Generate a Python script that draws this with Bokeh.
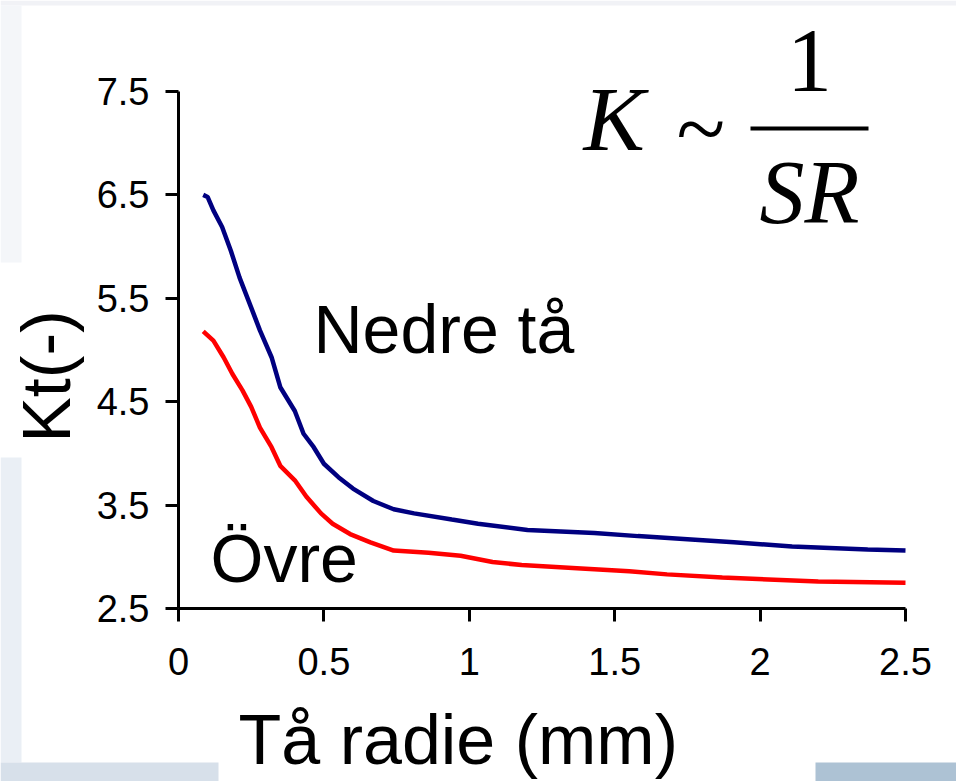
import math
from bokeh.plotting import figure
from bokeh.models import Range1d, Label, BoxAnnotation, FixedTicker
from bokeh.embed import file_html
from bokeh.resources import INLINE

# ---- data ----
nedre_x = [0.085, 0.10, 0.12, 0.15, 0.18, 0.21, 0.25, 0.28, 0.32, 0.35, 0.40, 0.43, 0.465,
           0.50, 0.55, 0.60, 0.67, 0.74, 0.81, 0.94, 1.03, 1.20, 1.43, 1.58, 1.75, 1.91,
           2.11, 2.37, 2.50]
nedre_kt = [6.50, 6.48, 6.35, 6.19, 5.96, 5.70, 5.41, 5.19, 4.93, 4.64, 4.41, 4.19, 4.06,
            3.90, 3.77, 3.66, 3.54, 3.46, 3.42, 3.36, 3.32, 3.26, 3.23, 3.20, 3.17, 3.14,
            3.10, 3.07, 3.06]

ovre_x = [0.085, 0.12, 0.155, 0.185, 0.22, 0.25, 0.28, 0.32, 0.35, 0.40, 0.44, 0.49, 0.53,
          0.59, 0.66, 0.74, 0.86, 0.97, 1.08, 1.18, 1.37, 1.55, 1.68, 1.87, 2.20, 2.50]
ovre_kt = [5.18, 5.09, 4.93, 4.77, 4.61, 4.45, 4.25, 4.06, 3.88, 3.74, 3.58, 3.42, 3.32,
           3.22, 3.14, 3.06, 3.04, 3.01, 2.95, 2.92, 2.89, 2.86, 2.83, 2.80, 2.76, 2.75]

x_ticks = [0, 0.5, 1, 1.5, 2, 2.5]
y_ticks = [2.5, 3.5, 4.5, 5.5, 6.5, 7.5]
x_tick_labels = {0: "0", 0.5: "0.5", 1: "1", 1.5: "1.5", 2: "2", 2.5: "2.5"}
y_tick_labels = {2.5: "2.5", 3.5: "3.5", 4.5: "4.5", 5.5: "5.5", 6.5: "6.5", 7.5: "7.5"}

# ---- layout: page pixels <-> data (axis box: x 178..905, y 91..608) ----
W, H = 956, 781
X0, XS = 178.0, 290.8      # px of x=0, px per unit
Y0, YS = 91.0, 103.4       # px of y=7.5, px per unit

def dx(px):
    return (px - X0) / XS

def dy(py):
    return 7.5 - (py - Y0) / YS

p = figure(output_backend="svg", toolbar_location=None, title=None,
           width=W, height=H, min_border=0,
           x_range=Range1d(dx(0), dx(W)), y_range=Range1d(dy(H), dy(0)))
p.background_fill_color = "white"
p.border_fill_color = "white"
p.outline_line_color = None
p.xgrid.visible = False
p.ygrid.visible = False

# faint slide background bands
def band(l, r, t, b, color):
    p.add_layout(BoxAnnotation(left=dx(l), right=dx(r), top=dy(t), bottom=dy(b),
                               fill_color=color, fill_alpha=1.0, line_alpha=0,
                               level="underlay"))

band(0, W, 0, 5, "#f1f2f6")
band(0, 21, 5, 262, "#f4f6f9")
band(0, 21, 457, 762, "#eaeff5")
band(0, 218, 762, H, "#d7e0ea")
band(815, W, 762, H, "#adc2d4")

xa, ya = p.xaxis[0], p.yaxis[0]
xa.fixed_location = 2.5
ya.fixed_location = 0
xa.bounds = (0, 2.5)
ya.bounds = (2.5, 7.5)
for ax in (xa, ya):
    ax.axis_line_width = 3
    ax.axis_line_color = "black"
    ax.major_tick_line_width = 3
    ax.major_tick_line_color = "black"
    ax.major_tick_out = 13
    ax.major_tick_in = 0
    ax.minor_tick_line_color = None
    ax.major_label_text_font = "Liberation Sans"
    ax.major_label_text_font_size = "38px"
    ax.major_label_text_color = "black"
xa.major_label_standoff = 26
ya.major_label_standoff = 16

xa.ticker = FixedTicker(ticks=x_ticks)
ya.ticker = FixedTicker(ticks=y_ticks)
xa.major_label_overrides = x_tick_labels
ya.major_label_overrides = y_tick_labels

p.line(nedre_x, nedre_kt, line_color="#000080", line_width=4.5)
p.line(ovre_x, ovre_kt, line_color="#ff0000", line_width=4.5)

SHIFT = 0.365  # em offset between requested and rendered baseline

def lab(text, px, py, size, font="Liberation Sans", style="normal", align="left", rotated=False):
    if rotated:
        px = px - SHIFT * size
        angle = math.pi / 2
    else:
        py = py - SHIFT * size
        angle = 0.0
    p.add_layout(Label(x=dx(px), y=dy(py), text=text, text_font=font,
                       text_font_size=f"{size}px", text_font_style=style,
                       text_align=align, text_baseline="alphabetic",
                       text_color="black", angle=angle))

lab("Nedre tå", 313, 353, 68)
lab("Övre", 210, 582, 68)
lab("Tå radie (mm)", 238, 765, 70)
lab("Kt(-)", 70, 442, 68, rotated=True)

# formula K ~ 1/SR
lab("K", 583, 152, 92, font="Liberation Serif", style="italic")
lab("~", 676, 161, 90, font="Liberation Serif")
lab("1", 809, 93, 90, font="Liberation Serif", align="center")
lab("SR", 809, 225, 90, font="Liberation Serif", style="italic", align="center")
p.add_layout(BoxAnnotation(left=dx(750), right=dx(868), top=dy(126), bottom=dy(130),
                           fill_color="black", fill_alpha=1.0, line_alpha=0))

open("out.html", "w").write(file_html(p, INLINE))
